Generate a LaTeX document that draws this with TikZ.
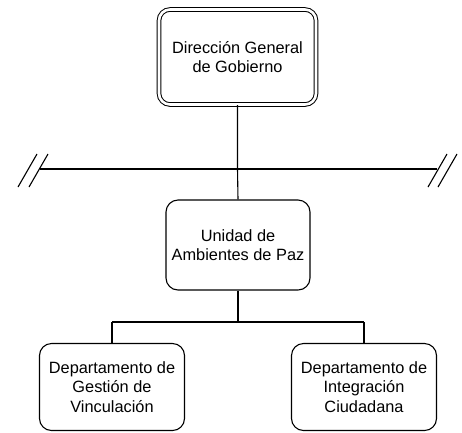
\documentclass[tikz,border=0pt]{standalone}
\usepackage{fontspec}
\setmainfont{Liberation Sans}
\usetikzlibrary{calc,positioning}

\begin{document}
\begin{tikzpicture}[x=1bp,y=-1bp]
		% Styles
		\tikzset{
			unitbox/.style={draw=black, line width=1.1bp, rounded corners=12bp, align=center, inner sep=0pt, font=\fontsize{16.4}{19.5}\selectfont},
			headbox/.style={unitbox, double, double distance=2.6bp, line width=1bp, rounded corners=11bp},
			link/.style={draw=black, line width=1.1bp},
			cut/.style={draw=black, line width=1.1bp}
		}

		% Frame
		\useasboundingbox (0,0) rectangle (462,432);

		% Boxes
		\node[headbox, minimum width=157bp, minimum height=95bp] (dgg) at (237.5,57) {Dirección General\\de Gobierno};
		\node[unitbox, minimum width=144bp, minimum height=90bp] (uap) at (238,245) {Unidad de\\Ambientes de Paz};
		\node[unitbox, minimum width=145bp, minimum height=87bp] (dgv) at (112,387) {Departamento de\\Gestión de\\Vinculación};
		\node[unitbox, minimum width=145bp, minimum height=87bp] (dic) at (364,387) {Departamento de\\Integración\\Ciudadana};

		% Junctions
		\coordinate (top) at (dgg.south |- 0,169);
		\coordinate (cutL) at (40,169);
		\coordinate (cutR) at (437,169);
		\coordinate (mid) at (uap.south |- 0,322);
		\coordinate (midL) at (dgv.north |- mid);
		\coordinate (midR) at (dic.north |- mid);

		% Links
		\draw[link] (dgg.south) -- (top) -- (uap.north);
		\draw[link] (cutL) -- (cutR);
		\draw[link] (uap.south) -- (mid);
		\draw[link] (midL) -- (midR);
		\draw[link] (midL) -- (dgv.north);
		\draw[link] (midR) -- (dic.north);

		% Break marks
		\draw[cut] ($(cutL)+(-22,18)$) -- ++(19,-33);
		\draw[cut] ($(cutL)+(-11,18)$) -- ++(19,-33);
		\draw[cut] ($(cutR)+(-9,18)$) -- ++(19,-33);
		\draw[cut] ($(cutR)+(1,18)$) -- ++(19,-33);

	\end{tikzpicture}
\end{document}
